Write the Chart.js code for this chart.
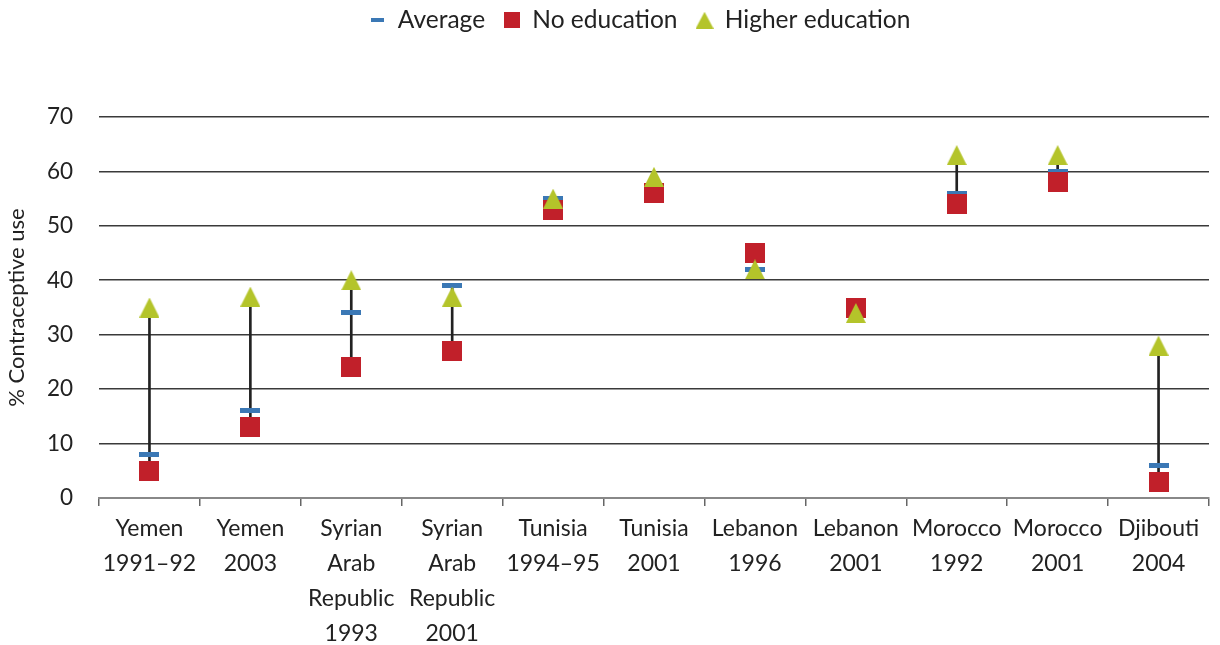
<!DOCTYPE html>
<html><head><meta charset="utf-8">
<script src="https://cdn.jsdelivr.net/npm/chart.js@4/dist/chart.umd.min.js"></script>
<style>html,body{margin:0;padding:0;background:#fff}#wrap{width:1220px;height:645px;position:relative}</style>
</head><body><div id="wrap"><canvas id="c"></canvas></div>
<script>
const categories = [["Yemen","1991–92"],["Yemen","2003"],["Syrian","Arab","Republic","1993"],["Syrian","Arab","Republic","2001"],["Tunisia","1994–95"],["Tunisia","2001"],["Lebanon","1996"],["Lebanon","2001"],["Morocco","1992"],["Morocco","2001"],["Djibouti","2004"]];
const average = [8, 16, 34, 39, 55, 57, 42, 35, 56, 60, 6];
const noEducation = [5, 13, 24, 27, 53, 56, 45, 35, 54, 58, 3];
const higherEducation = [35, 37, 40, 37, 55, 59, 42, 34, 63, 63, 28];
const seriesNames = ["Average", "No education", "Higher education"];
const yMin = 0, yMax = 70, yStep = 10;

const BLUE = '#3B78B5', RED = '#C1202A', GREEN = '#B4C42A', FONT = 'Lato, "Open Sans", sans-serif';

function mk(w, h, fn){ const c = document.createElement('canvas'); c.width = w; c.height = h; fn(c.getContext('2d'), w, h); return c; }
const triImg = (w,h) => mk(w,h,(g,W,H)=>{ g.fillStyle=GREEN; g.beginPath(); g.moveTo(W/2,0); g.lineTo(W,H); g.lineTo(0,H); g.closePath(); g.fill(); });
const sqImg = (s) => mk(s,s,(g,W,H)=>{ g.fillStyle=RED; g.fillRect(0,0,W,H); });
const dashImg = (w,h) => mk(w,h,(g,W,H)=>{ g.fillStyle=BLUE; g.fillRect(0,0,W,H); });

const ranges = categories.map((_, i) => {
  const v = [average[i], noEducation[i], higherEducation[i]];
  return [Math.min(...v), Math.max(...v)];
});

const legendImgs = [dashImg(13,4), sqImg(16), triImg(18,17)];

const layoutPlugin = {
  id: 'layoutTweaks',
  beforeLayout(chart){
    const lg = chart.legend;
    if (lg && !lg._patched){
      const f = lg.fit;
      lg.fit = function(){ f.call(this); this.height = 117; };
      lg._patched = true;
    }
  },
  afterLayout(chart){
    const lg = chart.legend;
    if (lg){ lg.left += 30; lg.right += 30; lg.top -= 11; }
  }
};

new Chart(document.getElementById('c'), {
  type: 'bar',
  data: {
    labels: categories,
    datasets: [
      { type: 'bar', label: 'range', data: ranges, backgroundColor: '#222', borderWidth: 0, barThickness: 2, order: 4 },
      { type: 'line', label: seriesNames[0], data: average, showLine: false, pointStyle: dashImg(20,5), pointRadius: 10, order: 3, backgroundColor: BLUE, borderColor: BLUE },
      { type: 'line', label: seriesNames[1], data: noEducation, showLine: false, pointStyle: sqImg(20), pointRadius: 10, order: 2, backgroundColor: RED, borderColor: RED },
      { type: 'line', label: seriesNames[2], data: higherEducation, showLine: false, pointStyle: triImg(20,20), pointRadius: 10, order: 1, backgroundColor: GREEN, borderColor: GREEN }
    ]
  },
  options: {
    responsive: true,
    maintainAspectRatio: false,
    animation: false,
    layout: { padding: 0 },
    plugins: {
      tooltip: { enabled: false },
      legend: {
        display: true,
        position: 'top',
        labels: {
          usePointStyle: true,
          boxWidth: 16, boxHeight: 16,
          padding: 19,
          color: '#222',
          font: { family: FONT, size: 24.5 },
          generateLabels: () => seriesNames.map((n, i) => ({
            text: n, datasetIndex: i + 1, pointStyle: legendImgs[i], hidden: false,
            fillStyle: '#000', strokeStyle: '#000', lineWidth: 0, fontColor: '#222'
          }))
        }
      }
    },
    scales: {
      x: {
        type: 'category',
        offset: true,
        grid: { display: true, offset: true, drawOnChartArea: false, drawTicks: true, tickLength: 8, color: '#666', lineWidth: 1.5 },
        border: { display: true, color: '#888', width: 2 },
        ticks: { autoSkip: false, maxRotation: 0, minRotation: 0, padding: 5, color: '#222', font: { family: FONT, size: 23, lineHeight: '35px' } },
        afterFit(s){ s.height = 147; }
      },
      y: {
        min: yMin, max: yMax,
        grid: { color: '#3a3a3a', lineWidth: 1.6, drawTicks: false },
        border: { display: false },
        ticks: { stepSize: yStep, padding: 26, color: '#222', font: { family: FONT, size: 22.5 } },
        title: { display: true, text: '% Contraceptive use', color: '#222', font: { family: FONT, size: 22 }, padding: { top: 4, bottom: 4 } },
        afterFit(s){ s.width = 99; }
      }
    }
  },
  plugins: [layoutPlugin]
});
</script>
</body></html>
